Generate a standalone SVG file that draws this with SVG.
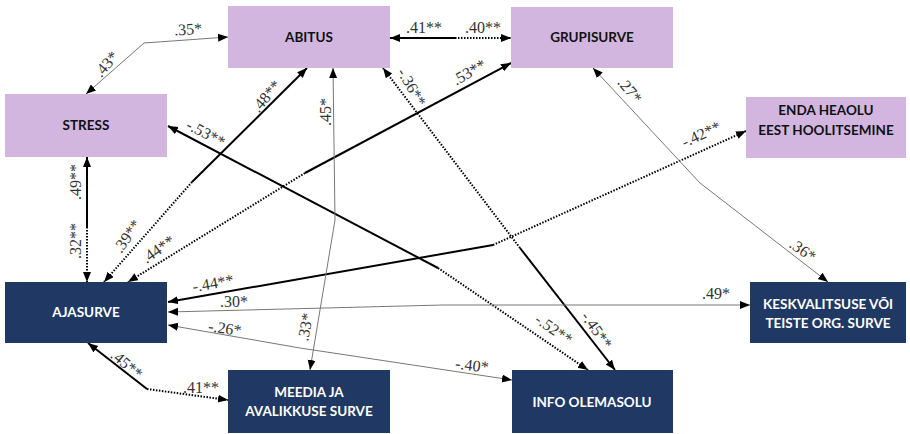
<svg xmlns="http://www.w3.org/2000/svg" width="910" height="434" viewBox="0 0 910 434">
<defs>
<marker id="ah" markerUnits="userSpaceOnUse" markerWidth="11" markerHeight="9" refX="10" refY="4" orient="auto-start-reverse">
<path d="M0,0 L10,4 L0,8 z" fill="#000"/>
</marker>
<style>
.np rect{fill:#D3B6E0}
.nb rect{fill:#1F3864}
.np text{fill:#111;font-family:Lato,"Open Sans",sans-serif;font-weight:bold;font-size:13.5px;text-anchor:middle}
.nb text{fill:#fff;font-family:Lato,"Open Sans",sans-serif;font-weight:bold;font-size:13.5px;text-anchor:middle}
.s{stroke:#000;stroke-width:2;fill:none;marker-end:url(#ah)}
.d{stroke:#000;stroke-width:2;fill:none;stroke-dasharray:1.5 1.5;marker-end:url(#ah)}
.t{stroke:#777;stroke-width:1;fill:none;marker-start:url(#ah);marker-end:url(#ah)}
.l{font-family:"Liberation Serif","Times New Roman",serif;font-size:16px;fill:#333;text-anchor:middle}
</style>
</defs>
<rect width="910" height="434" fill="#fff"/>
<g id="connectors">
<path class="t" d="M86,94 L144,43 L228,37"/>
<path class="s" d="M455,38 L390,38"/>
<path class="d" d="M455,38 L511,38"/>
<path class="s" d="M192,182 L307,68"/>
<path class="d" d="M192,182 L104,282"/>
<path class="d" d="M305,173 L128,282"/>
<path class="s" d="M305,173 L511,63"/>
<path class="s" d="M438,268 L168,126"/>
<path class="d" d="M438,268 L588,370"/>
<path class="d" d="M520,248 L383,68"/>
<path class="s" d="M520,248 L615,370"/>
<path class="s" d="M493,245 L168,302"/>
<path class="d" d="M493,245 L746,131"/>
<path class="t" d="M593,68 L700,183 L828,282"/>
<path class="t" d="M168,312 L443,305 L750,305"/>
<path class="t" d="M168,325 L300,348 L512,380"/>
<path class="s" d="M147,389 L88,343"/>
<path class="d" d="M147,389 L228,400"/>
<path class="t" d="M333,68 L335,220 L310,370"/>
<path class="s" d="M87,227 L87,157"/>
<path class="d" d="M87,227 L87,282"/>
</g>
<g id="labels">
<text class="l" x="188" y="29" dy="0.35em" transform="rotate(-4 188 29)">.35*</text>
<text class="l" x="106" y="64" dy="0.35em" transform="rotate(-50 106 64)">.43*</text>
<text class="l" x="424" y="27" dy="0.35em">.41**</text>
<text class="l" x="483" y="27" dy="0.35em">.40**</text>
<text class="l" x="266" y="96" dy="0.35em" transform="rotate(-50 266 96)">.48**</text>
<text class="l" x="206" y="133" dy="0.35em" transform="rotate(28 206 133)">-.53**</text>
<text class="l" x="325" y="112" dy="0.35em" transform="rotate(-90 325 112)">.45*</text>
<text class="l" x="412" y="87" dy="0.35em" transform="rotate(60 412 87)">-.36**</text>
<text class="l" x="469" y="72" dy="0.35em" transform="rotate(-30 469 72)">.53**</text>
<text class="l" x="630" y="90" dy="0.35em" transform="rotate(50 630 90)">.27*</text>
<text class="l" x="701" y="134" dy="0.35em" transform="rotate(-25 701 134)">-.42**</text>
<text class="l" x="75" y="182" dy="0.35em" transform="rotate(-90 75 182)">.49**</text>
<text class="l" x="75" y="241" dy="0.35em" transform="rotate(-90 75 241)">.32**</text>
<text class="l" x="127" y="236" dy="0.35em" transform="rotate(-55 127 236)">.39**</text>
<text class="l" x="158" y="249" dy="0.35em" transform="rotate(-35 158 249)">.44**</text>
<text class="l" x="213" y="283" dy="0.35em" transform="rotate(-10 213 283)">-.44**</text>
<text class="l" x="803" y="250" dy="0.35em" transform="rotate(35 803 250)">.36*</text>
<text class="l" x="716" y="293" dy="0.35em">.49*</text>
<text class="l" x="234" y="301" dy="0.35em">.30*</text>
<text class="l" x="225" y="328" dy="0.35em" transform="rotate(8 225 328)">-.26*</text>
<text class="l" x="305" y="327" dy="0.35em" transform="rotate(-80 305 327)">.33*</text>
<text class="l" x="127" y="364" dy="0.35em" transform="rotate(40 127 364)">.45**</text>
<text class="l" x="201" y="387" dy="0.35em">.41**</text>
<text class="l" x="554" y="329" dy="0.35em" transform="rotate(35 554 329)">-.52**</text>
<text class="l" x="597" y="330" dy="0.35em" transform="rotate(55 597 330)">-.45**</text>
<text class="l" x="472" y="365" dy="0.35em" transform="rotate(7 472 365)">-.40*</text>
</g>
<g id="abitus" class="np"><rect x="228" y="6" width="162" height="62"/><text x="309" y="42">ABITUS</text></g>
<g id="grupisurve" class="np"><rect x="511" y="7" width="162" height="61"/><text x="592" y="42">GRUPISURVE</text></g>
<g id="stress" class="np"><rect x="5" y="94" width="162" height="63"/><text x="86" y="130">STRESS</text></g>
<g id="enda" class="np"><rect x="746" y="97" width="160" height="61"/><text x="826" y="115">ENDA HEAOLU</text><text x="826" y="135">EEST HOOLITSEMINE</text></g>
<g id="ajasurve" class="nb"><rect x="5" y="282" width="162" height="61"/><text x="86" y="317">AJASURVE</text></g>
<g id="keskvalitsuse" class="nb"><rect x="750" y="282" width="156" height="61"/><text x="828" y="309">KESKVALITSUSE VÕI</text><text x="828" y="328">TEISTE ORG. SURVE</text></g>
<g id="meedia" class="nb"><rect x="228" y="370" width="162" height="63"/><text x="309" y="397">MEEDIA JA</text><text x="309" y="416">AVALIKKUSE SURVE</text></g>
<g id="info" class="nb"><rect x="512" y="370" width="161" height="63"/><text x="592" y="407">INFO OLEMASOLU</text></g>
</svg>
